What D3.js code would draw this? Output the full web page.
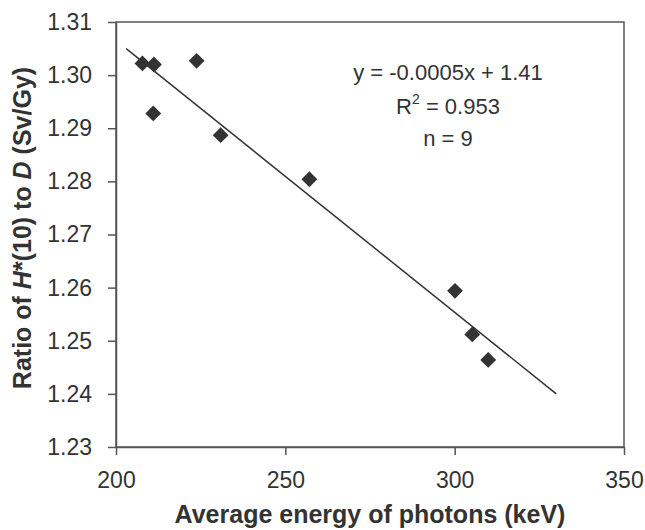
<!DOCTYPE html>
<html>
<head>
<meta charset="utf-8">
<script src="https://cdn.jsdelivr.net/npm/d3@7"></script>
<style>
  body { margin: 0; background: #fff; }
  svg { font-family: Arial, "Liberation Sans", sans-serif; }
</style>
</head>
<body>
<svg width="645" height="530"></svg>
<script>
// measured points: average photon energy (keV) vs H*(10)/D ratio
var energy = [207.8, 211.2, 223.8, 211.0, 230.9, 257.1, 300.1, 305.2, 309.9];
var ratio  = [1.3022, 1.3020, 1.3027, 1.2928, 1.2887, 1.2804, 1.2594, 1.2512, 1.2464];

// linear trend line ends
var trendX = [203, 330];
var trendY = [1.305, 1.240];

var xTicks = [200, 250, 300, 350];
var yTicks = [1.23, 1.24, 1.25, 1.26, 1.27, 1.28, 1.29, 1.30, 1.31];

var eqLines = ["y = -0.0005x + 1.41", "R2 = 0.953", "n = 9"];

var svg = d3.select("svg");
var ink = "#333";
var axisCol = "#555";

var x = d3.scaleLinear().domain([200, 350]).range([116, 624]);
var y = d3.scaleLinear().domain([1.23, 1.31]).range([447, 22]);

// frame around plot
svg.append("rect")
	.attr("x", x(200))
	.attr("y", y(1.31))
	.attr("width", x(350) - x(200))
	.attr("height", y(1.23) - y(1.31))
	.attr("fill", "none")
	.attr("stroke", axisCol)
	.attr("stroke-width", 1.5);

// x axis
var gx = svg.append("g")
	.attr("transform", "translate(0," + y(1.23) + ")")
	.call(d3.axisBottom(x).tickValues(xTicks).tickSize(8).tickSizeOuter(0).tickPadding(17));
gx.select(".domain").attr("stroke", axisCol).attr("stroke-width", 1.5);
gx.selectAll(".tick line").attr("stroke", axisCol).attr("stroke-width", 1.5);
gx.selectAll(".tick text").attr("fill", ink).attr("font-size", 23);

// y axis
var gy = svg.append("g")
	.attr("transform", "translate(" + x(200) + ",0)")
	.call(d3.axisLeft(y).tickValues(yTicks).tickFormat(d3.format(".2f")).tickSize(8).tickSizeOuter(0).tickPadding(16));
gy.select(".domain").attr("stroke", axisCol).attr("stroke-width", 1.5);
gy.selectAll(".tick line").attr("stroke", axisCol).attr("stroke-width", 1.5);
gy.selectAll(".tick text").attr("fill", ink).attr("font-size", 23);

// trend line
svg.append("line")
	.attr("x1", x(trendX[0])).attr("y1", y(trendY[0]))
	.attr("x2", x(trendX[1])).attr("y2", y(trendY[1]))
	.attr("stroke", ink)
	.attr("stroke-width", 1.5);

// diamonds
var diamond = d3.symbol().type(d3.symbolSquare).size(125);
svg.append("g")
	.selectAll("path")
	.data(energy.map(function(e, i) { return [e, ratio[i]]; }))
	.enter().append("path")
	.attr("d", diamond)
	.attr("transform", function(d) { return "translate(" + x(d[0]) + "," + y(d[1]) + ") rotate(45)"; })
	.attr("fill", ink);

// regression text
var eq = svg.append("g")
	.attr("fill", ink)
	.attr("font-size", 22)
	.attr("text-anchor", "middle");
eq.append("text").attr("x", 448).attr("y", 80).text(eqLines[0]);
var r2 = eq.append("text").attr("x", 448).attr("y", 114);
r2.append("tspan").text("R");
r2.append("tspan").attr("font-size", 14).attr("dy", -10).text("2");
r2.append("tspan").attr("dy", 10).text(" = 0.953");
eq.append("text").attr("x", 448).attr("y", 146).text(eqLines[2]);

// axis titles
svg.append("text")
	.attr("x", x(275))
	.attr("y", 523)
	.attr("text-anchor", "middle")
	.attr("font-size", 25)
	.attr("font-weight", "bold")
	.attr("fill", ink)
	.text("Average energy of photons (keV)");

var yt = svg.append("text")
	.attr("transform", "translate(31,228) rotate(-90)")
	.attr("text-anchor", "middle")
	.attr("font-size", 25)
	.attr("font-weight", "bold")
	.attr("fill", ink);
yt.append("tspan").text("Ratio of ");
yt.append("tspan").attr("font-style", "italic").text("H");
yt.append("tspan").text("*(10) to ");
yt.append("tspan").attr("font-style", "italic").text("D");
yt.append("tspan").text(" (Sv/Gy)");
</script>
</body>
</html>
